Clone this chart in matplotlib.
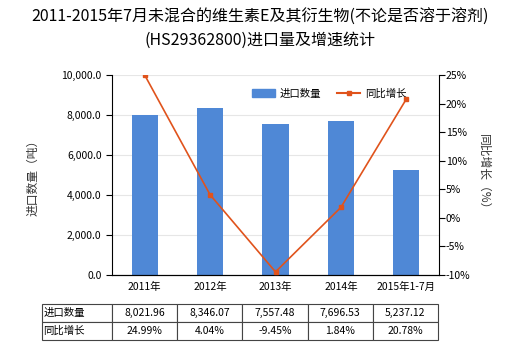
import numpy as np
import matplotlib.pyplot as plt
from matplotlib.lines import Line2D
from matplotlib.patches import Patch

plt.rcParams['font.family'] = ['Noto Sans CJK SC', 'DejaVu Sans']

years = ["2011年", "2012年", "2013年", "2014年", "2015年1-7月"]
quantity = [8021.96, 8346.07, 7557.48, 7696.53, 5237.12]
growth = [24.99, 4.04, -9.45, 1.84, 20.78]

BAR_COLOR = "#4f88d6"
LINE_COLOR = "#e0531c"


def main():
    fig = plt.figure(figsize=(5.2, 3.5), dpi=100)
    ax = fig.add_axes([112 / 520, 1 - 275 / 350, 327 / 520, 200 / 350])
    x = np.arange(len(years))

    # 柱状图：进口数量
    ax.bar(x, quantity, width=0.4, color=BAR_COLOR, zorder=2)
    ax.set_xlim(-0.5, len(years) - 0.5)
    ax.set_ylim(0, 10000)
    ax.set_yticks(np.arange(0, 10001, 2000))
    ax.set_yticklabels([f"{v:,.1f}" for v in np.arange(0, 10001, 2000)])
    ax.yaxis.grid(True, color="#e6e6e6", linewidth=0.8, zorder=0)
    ax.set_xticks(x)
    ax.set_xticklabels(years)
    ax.tick_params(axis="x", length=0, labelsize=7.5, pad=5)
    ax.tick_params(axis="y", length=4, labelsize=7.5, width=0.8)
    for s in ["top", "right"]:
        ax.spines[s].set_visible(False)
    ax.set_ylabel("进口数量（吨）", fontsize=8.5, labelpad=16, color="#333333")

    # 折线图：同比增长
    ax2 = ax.twinx()
    ax2.plot(x, growth, color=LINE_COLOR, linewidth=1.2, marker="s", markersize=3.5, zorder=3)
    ax2.set_ylim(-10, 25)
    ax2.set_yticks(np.arange(-10, 26, 5))
    ax2.set_yticklabels([f"{v}%" for v in range(-10, 26, 5)])
    ax2.tick_params(axis="y", length=4, labelsize=7.5, width=0.8, pad=1)
    for s in ["top", "left"]:
        ax2.spines[s].set_visible(False)
    ax2.set_ylabel("同比增长（%）", fontsize=8.5, rotation=-90, labelpad=14, color="#333333")

    # 图例
    handles = [Patch(color=BAR_COLOR),
               Line2D([0], [0], color=LINE_COLOR, marker="s", markersize=3.5, linewidth=1.5)]
    ax.legend(handles, ["进口数量", "同比增长"], loc="upper right", bbox_to_anchor=(0.93, 0.98),
              ncol=2, frameon=False, fontsize=7.5, handlelength=2.2, columnspacing=1.5,
              handletextpad=0.5)

    fig.suptitle("2011-2015年7月未混合的维生素E及其衍生物(不论是否溶于溶剂)\n(HS29362800)进口量及增速统计",
                 fontsize=11.5, y=0.975, linespacing=1.45)

    # 数据表
    cell_text = [["进口数量"] + [f"{v:,.2f}" for v in quantity],
                 ["同比增长"] + [f"{v:.2f}%" for v in growth]]
    widths = [70 / 396] + [65.2 / 396] * 5
    tbl = ax.table(cellText=cell_text, colWidths=widths, cellLoc="center",
                   bbox=[(42 - 112) / 327, (275 - 340) / 200, 396 / 327, 36 / 200])
    tbl.auto_set_font_size(False)
    tbl.set_fontsize(7.5)
    for (r, c), cell in tbl.get_celld().items():
        cell.set_edgecolor("#444444")
        cell.set_linewidth(0.8)
        if c == 0:
            cell.set_text_props(ha="left")
            cell.PAD = 0.02

    fig.savefig("out.png", dpi=100)


if __name__ == "__main__":
    main()
